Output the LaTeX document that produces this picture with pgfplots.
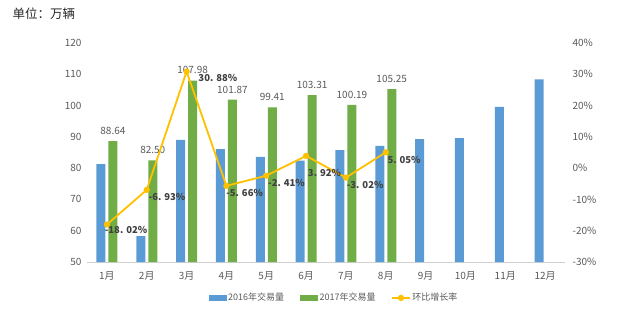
\documentclass[border=0pt]{standalone}
\usepackage{pgfplots}
\pgfplotsset{compat=1.18}
\usepackage{pgfplotstable}
\usepackage{fontspec}
\setmainfont{Noto Sans CJK SC}
\definecolor{cblue}{HTML}{5B9BD5}
\definecolor{cgreen}{HTML}{70AD47}
\definecolor{cgold}{HTML}{FFC000}
\definecolor{ctext}{HTML}{595959}
\definecolor{cdark}{HTML}{404040}

\pgfplotstableread[col sep=comma]{
x,y
0,81.3
1,58.3
2,89.0
3,86.1
4,83.6
5,82.4
6,85.8
7,87.1
8,89.3
9,89.6
10,99.6
11,108.4
}\sixteen

\pgfplotstableread[col sep=comma]{
x,y,lab
0,88.64,88.64
1,82.50,82.50
2,107.98,107.98
3,101.87,101.87
4,99.41,99.41
5,103.31,103.31
6,100.19,100.19
7,105.25,105.25
}\seventeen

\pgfplotstableread[col sep=comma]{
x,y,lab,dx,dy
0,-18.02,-18. 02\%,-3,-5
1,-6.93,-6. 93\%,1,-7
2,30.88,30. 88\%,11,-6
3,-5.66,-5. 66\%,-1,-7
4,-2.41,-2. 41\%,1,-7
5,3.92,3. 92\%,1,-17
6,-3.02,-3. 02\%,0,-7
7,5.05,5. 05\%,1,-8
}\growth

\pgfplotsset{
  common/.style={
    at={(87pt,55pt)}, anchor=south west, scale only axis,
    width=478pt, height=219pt,
    xmin=-0.5, xmax=11.5,
    /pgf/number format/assume math mode=true,
    tick style={draw=none},
    ticklabel style={text=ctext, font=\fontsize{10}{12}\selectfont},
  },
}

\begin{document}
\begin{tikzpicture}
\useasboundingbox (0,0) rectangle (640pt,317pt);
\node[anchor=west, font=\fontsize{12.5}{15}\selectfont, text=black!85] at (9pt,303pt) {单位：万辆};

\begin{axis}[common,
  ybar=3pt, bar width=9pt,
  ymin=50, ymax=120, ytick={50,60,...,120},
  xtick={0,...,11},
  xticklabels={1月,2月,3月,4月,5月,6月,7月,8月,9月,10月,11月,12月},
  axis x line*=bottom, axis y line*=left,
  y axis line style={draw=none},
  x axis line style={draw=black!18, -},
  yticklabel style={xshift=-2pt},
  xticklabel style={yshift=-2pt},
]
\addplot[fill=cblue, draw=none] table[x=x,y=y]{\sixteen};
\addplot[fill=cgreen, draw=none,
  nodes near coords, point meta=explicit symbolic,
  every node near coord/.append style={text=ctext, font=\fontsize{10}{12}\selectfont, yshift=3pt}]
  table[x=x,y=y,meta=lab]{\seventeen};
\end{axis}

\begin{axis}[common,
  ymin=-30, ymax=40, ytick={-30,-20,...,40},
  yticklabel={\pgfmathprintnumber{\tick}\%},
  axis x line=none, axis y line*=right,
  y axis line style={draw=none},
  yticklabel style={xshift=4pt},
  legend style={at={(0.517,-0.164)}, anchor=center, draw=none, fill=none,
    legend columns=3, font=\fontsize{9}{11}\selectfont, text=ctext,
    /tikz/every even column/.append style={column sep=14pt}},
  legend cell align=left,
]
\addlegendimage{legend image code/.code={\fill[cblue] (0pt,-2.5pt) rectangle (17pt,2.5pt);}}
\addlegendentry{2016年交易量}
\addlegendimage{legend image code/.code={\fill[cgreen] (0pt,-2.5pt) rectangle (17pt,2.5pt);}}
\addlegendentry{2017年交易量}
\addplot[cgold, line width=1.8pt, mark=*, mark size=2.2pt, mark options={fill=cgold, draw=cgold},
  nodes near coords, point meta=explicit symbolic,
  visualization depends on={\thisrow{dx}\as\dx},
  visualization depends on={\thisrow{dy}\as\dy},
  every node near coord/.append style={anchor=west, inner sep=0pt, xshift=\dx pt, yshift=\dy pt,
    text=cdark, font=\bfseries\fontsize{9.5}{11}\selectfont}]
  table[x=x,y=y,meta=lab]{\growth};
\addlegendentry{环比增长率}
\end{axis}
\end{tikzpicture}
\end{document}
